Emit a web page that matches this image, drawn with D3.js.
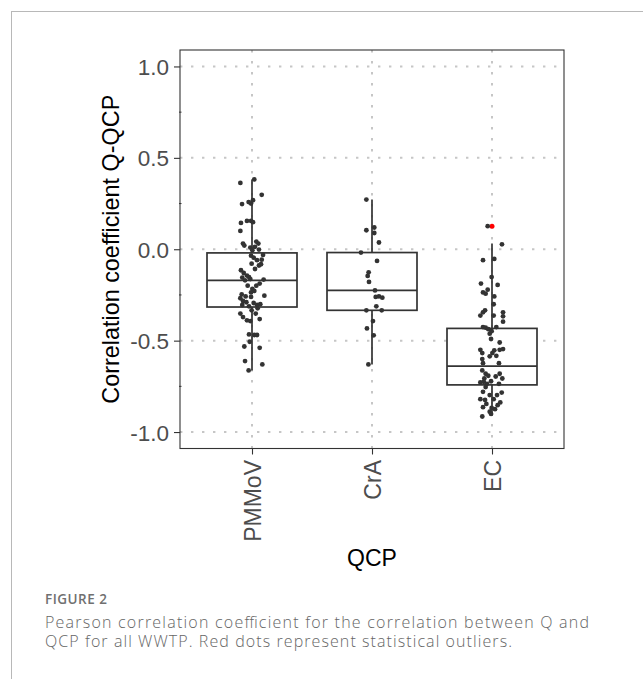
<!DOCTYPE html>
<html><head><meta charset="utf-8">
<script src="https://cdn.jsdelivr.net/npm/d3@7"></script>
<style>body{margin:0;background:#fff}svg{display:block}</style>
</head><body><svg id="c" width="643" height="679"></svg>
<script>
// ---------- data ----------
const categories = ["PMMoV", "CrA", "EC"];
const yTicks = [-1.0, -0.5, 0.0, 0.5, 1.0];
const yMinorTicks = [-0.75, -0.25, 0.25, 0.75];
const yTickLabels = ["-1.0", "-0.5", "0.0", "0.5", "1.0"];
const xTitle = "QCP";
const yTitle = "Correlation coefficient Q-QCP";
const captionHead = "FIGURE 2";
const captionLines = [
  "Pearson correlation coefficient for the correlation between Q and",
  "QCP for all WWTP. Red dots represent statistical outliers."
];

// box statistics
const boxWhiskerLow  = [-0.663, -0.630, -0.910];
const boxQ1          = [-0.316, -0.334, -0.742];
const boxMedian      = [-0.170, -0.225, -0.639];
const boxQ3          = [-0.020, -0.018, -0.433];
const boxWhiskerHigh = [ 0.382,  0.272,  0.031];

// outliers (red)
const outlierCategory = ["EC"];
const outlierValues = [0.126];

// jittered points: values and horizontal jitter (in category units)
const pmmovValues = [0.363,0.382,0.298,0.247,0.258,0.250,0.268,0.144,0.155,0.155,0.148,0.100,0.031,0.020,0.042,0.031,0.013,0.009,-0.002,-0.005,-0.031,-0.035,-0.046,-0.060,-0.057,-0.079,-0.089,-0.082,-0.108,-0.115,-0.130,-0.144,-0.155,-0.152,-0.170,-0.163,-0.166,-0.188,-0.199,-0.199,-0.217,-0.228,-0.236,-0.247,-0.258,-0.254,-0.268,-0.283,-0.261,-0.290,-0.294,-0.305,-0.305,-0.301,-0.312,-0.323,-0.334,-0.352,-0.371,-0.352,-0.382,-0.389,-0.393,-0.466,-0.469,-0.469,-0.506,-0.532,-0.539,-0.612,-0.630,-0.663];
const pmmovJitter = [-0.097,0.019,0.081,-0.083,-0.028,-0.008,0.008,-0.092,-0.042,-0.008,0.008,-0.097,-0.075,-0.064,0.036,0.053,0.025,-0.014,0.058,0.003,0.092,-0.008,0.014,0.042,0.081,-0.003,0.058,0.075,0.025,-0.092,-0.069,-0.042,-0.081,-0.025,-0.058,-0.014,0.097,0.064,0.036,-0.036,0.003,0.019,-0.008,-0.086,-0.053,0.103,-0.097,-0.075,-0.008,-0.047,0.014,-0.081,0.042,0.069,-0.025,0.047,-0.003,-0.097,-0.075,0.031,0.064,-0.042,-0.014,-0.025,0.019,0.042,-0.019,-0.064,0.064,-0.058,0.086,-0.028];

const craValues = [0.272,0.119,0.104,0.089,0.037,-0.018,-0.064,-0.126,-0.146,-0.179,-0.225,-0.261,-0.258,-0.265,-0.312,-0.334,-0.334,-0.393,-0.433,-0.471,-0.630];
const craJitter = [-0.047,0.019,-0.047,0.019,0.058,-0.092,0.042,-0.028,-0.036,-0.025,0.025,0.031,0.058,0.086,0.036,-0.047,0.081,0.008,-0.042,0.014,-0.030];

const ecValues = [0.126,0.027,-0.060,-0.053,-0.152,-0.188,-0.195,-0.221,-0.236,-0.243,-0.258,-0.301,-0.334,-0.345,-0.363,-0.345,-0.367,-0.363,-0.396,-0.426,-0.429,-0.426,-0.437,-0.462,-0.448,-0.491,-0.510,-0.550,-0.568,-0.568,-0.553,-0.550,-0.546,-0.586,-0.583,-0.601,-0.623,-0.623,-0.663,-0.681,-0.692,-0.681,-0.696,-0.707,-0.707,-0.729,-0.725,-0.736,-0.722,-0.736,-0.754,-0.780,-0.784,-0.798,-0.798,-0.820,-0.824,-0.820,-0.838,-0.853,-0.846,-0.864,-0.868,-0.875,-0.889,-0.915,-0.901];
const ecJitter = [-0.036,0.083,-0.075,0.019,-0.003,-0.092,0.047,-0.036,-0.075,-0.053,0.019,0.014,-0.058,-0.075,-0.097,0.092,0.092,0.014,0.092,-0.075,-0.053,0.036,-0.031,-0.019,-0.003,-0.008,0.064,-0.097,-0.081,0.003,0.019,0.064,0.092,-0.019,0.036,-0.081,0.058,-0.075,-0.081,-0.053,-0.031,0.064,0.031,-0.064,0.086,-0.097,-0.069,-0.042,-0.008,0.058,-0.053,-0.075,0.081,-0.019,0.042,-0.097,-0.058,0.014,0.069,0.047,-0.047,-0.075,-0.003,0.025,-0.019,-0.081,-0.008];

// ---------- drawing ----------
const svg = d3.select("#c");
svg.append("rect").attr("width", 643).attr("height", 679).attr("fill", "#fff");

// figure frame
svg.append("line").attr("x1", 11).attr("y1", 11.5).attr("x2", 643).attr("y2", 11.5)
  .attr("stroke", "#b8b8b8").attr("stroke-width", 1);
svg.append("line").attr("x1", 11.5).attr("y1", 11).attr("x2", 11.5).attr("y2", 679)
  .attr("stroke", "#b8b8b8").attr("stroke-width", 1);

const panel = {left: 180, right: 564, top: 50, bottom: 448.5};
const x = d3.scaleLinear().domain([0.4, categories.length + 0.6]).range([panel.left, panel.right]);
const xc = c => x(categories.indexOf(c) + 1);
const y = d3.scaleLinear().domain([-1.09, 1.09]).range([panel.bottom, panel.top]);

const sans = "'Liberation Sans', Arial, Helvetica, sans-serif";

// grid
const grid = svg.append("g").attr("stroke", "#c6c6c6").attr("stroke-width", 2)
  .attr("stroke-dasharray", "2.4,8.6").attr("fill", "none");
yTicks.forEach(t => grid.append("line")
  .attr("x1", panel.left).attr("x2", panel.right).attr("y1", y(t)).attr("y2", y(t)));
categories.forEach(c => grid.append("line")
  .attr("x1", xc(c)).attr("x2", xc(c)).attr("y1", panel.top).attr("y2", panel.bottom));

// boxes
const boxW = 0.75;
const boxes = svg.append("g").attr("stroke", "#333").attr("stroke-width", 1.7).attr("fill", "none");
categories.forEach((c, i) => {
  const cx = xc(c);
  const half = (x(1 + boxW / 2) - x(1 - boxW / 2)) / 2;
  boxes.append("line").attr("x1", cx).attr("x2", cx).attr("y1", y(boxWhiskerHigh[i])).attr("y2", y(boxQ3[i]));
  boxes.append("line").attr("x1", cx).attr("x2", cx).attr("y1", y(boxQ1[i])).attr("y2", y(boxWhiskerLow[i]));
  boxes.append("rect").attr("x", cx - half).attr("width", 2 * half)
    .attr("y", y(boxQ3[i])).attr("height", y(boxQ1[i]) - y(boxQ3[i])).attr("fill", "#fff");
  boxes.append("line").attr("x1", cx - half).attr("x2", cx + half).attr("y1", y(boxMedian[i])).attr("y2", y(boxMedian[i]));
});

// outliers
svg.append("g").selectAll("circle").data(outlierValues).join("circle")
  .attr("cx", (d, i) => xc(outlierCategory[i])).attr("cy", d => y(d))
  .attr("r", 2.5).attr("fill", "#ff0000");

// jittered points
const groups = [
  ["PMMoV", pmmovValues, pmmovJitter],
  ["CrA", craValues, craJitter],
  ["EC", ecValues, ecJitter]
];
const pts = svg.append("g").attr("fill", "#333");
groups.forEach(([c, vals, jit]) => {
  const idx = categories.indexOf(c) + 1;
  pts.selectAll(null).data(vals).join("circle")
    .attr("cx", (d, i) => x(idx + jit[i])).attr("cy", d => y(d)).attr("r", 2.4);
});

// panel border
svg.append("rect").attr("x", panel.left).attr("y", panel.top)
  .attr("width", panel.right - panel.left).attr("height", panel.bottom - panel.top)
  .attr("fill", "none").attr("stroke", "#333").attr("stroke-width", 1.1);
// small minor nubs on the left border
svg.append("g").attr("stroke", "#333").attr("stroke-width", 1).selectAll("line")
  .data(yMinorTicks).join("line")
  .attr("x1", panel.left - 1).attr("x2", panel.left + 1.5)
  .attr("y1", d => y(d)).attr("y2", d => y(d));

// y axis
const ya = svg.append("g").attr("transform", `translate(${panel.left},0)`)
  .call(d3.axisLeft(y).tickValues(yTicks).tickSize(6).tickPadding(5)
    .tickFormat((d, i) => yTickLabels[i]));
ya.select(".domain").remove();
ya.selectAll(".tick line").attr("stroke", "#333").attr("stroke-width", 1.1);
ya.selectAll(".tick text").attr("fill", "#4d4d4d").attr("font-size", 22.5)
  .attr("font-family", sans).attr("dy", "0.36em");

// x axis
const xa = svg.append("g").attr("transform", `translate(0,${panel.bottom})`)
  .call(d3.axisBottom(x).tickValues(categories.map((c, i) => i + 1)).tickSize(6)
    .tickFormat((d) => categories[d - 1]));
xa.select(".domain").remove();
xa.selectAll(".tick line").attr("stroke", "#333").attr("stroke-width", 1.1);
xa.selectAll(".tick text").attr("fill", "#4d4d4d").attr("font-size", 23)
  .attr("font-family", sans)
  .attr("text-anchor", "end")
  .attr("transform", "translate(0,11.5) rotate(-90)")
  .attr("x", 0).attr("y", 0).attr("dy", "0.36em");

// titles
svg.append("text").attr("x", (panel.left + panel.right) / 2).attr("y", 566)
  .attr("text-anchor", "middle").attr("font-family", sans).attr("font-size", 23)
  .attr("fill", "#000").text(xTitle);
svg.append("text").attr("transform", `translate(118.5,${(panel.top + panel.bottom) / 2}) rotate(-90)`)
  .attr("text-anchor", "middle").attr("font-family", sans).attr("font-size", 23.4)
  .attr("fill", "#000").text(yTitle);

// caption
const capFont = "'Open Sans', 'Noto Sans', sans-serif";
const capWidths = [544, 467];
svg.append("text").attr("x", 45).attr("y", 604).attr("font-family", capFont)
  .attr("font-size", 13.5).attr("font-weight", 600).attr("fill", "#707070")
  .attr("textLength", 62).attr("lengthAdjust", "spacing").text(captionHead);
captionLines.forEach((t, i) => svg.append("text").attr("x", 45).attr("y", 628 + i * 19)
  .attr("font-family", capFont).attr("font-size", 16).attr("font-weight", 300)
  .attr("textLength", capWidths[i]).attr("lengthAdjust", "spacing")
  .attr("fill", "#666").text(t));
</script>
</body></html>
